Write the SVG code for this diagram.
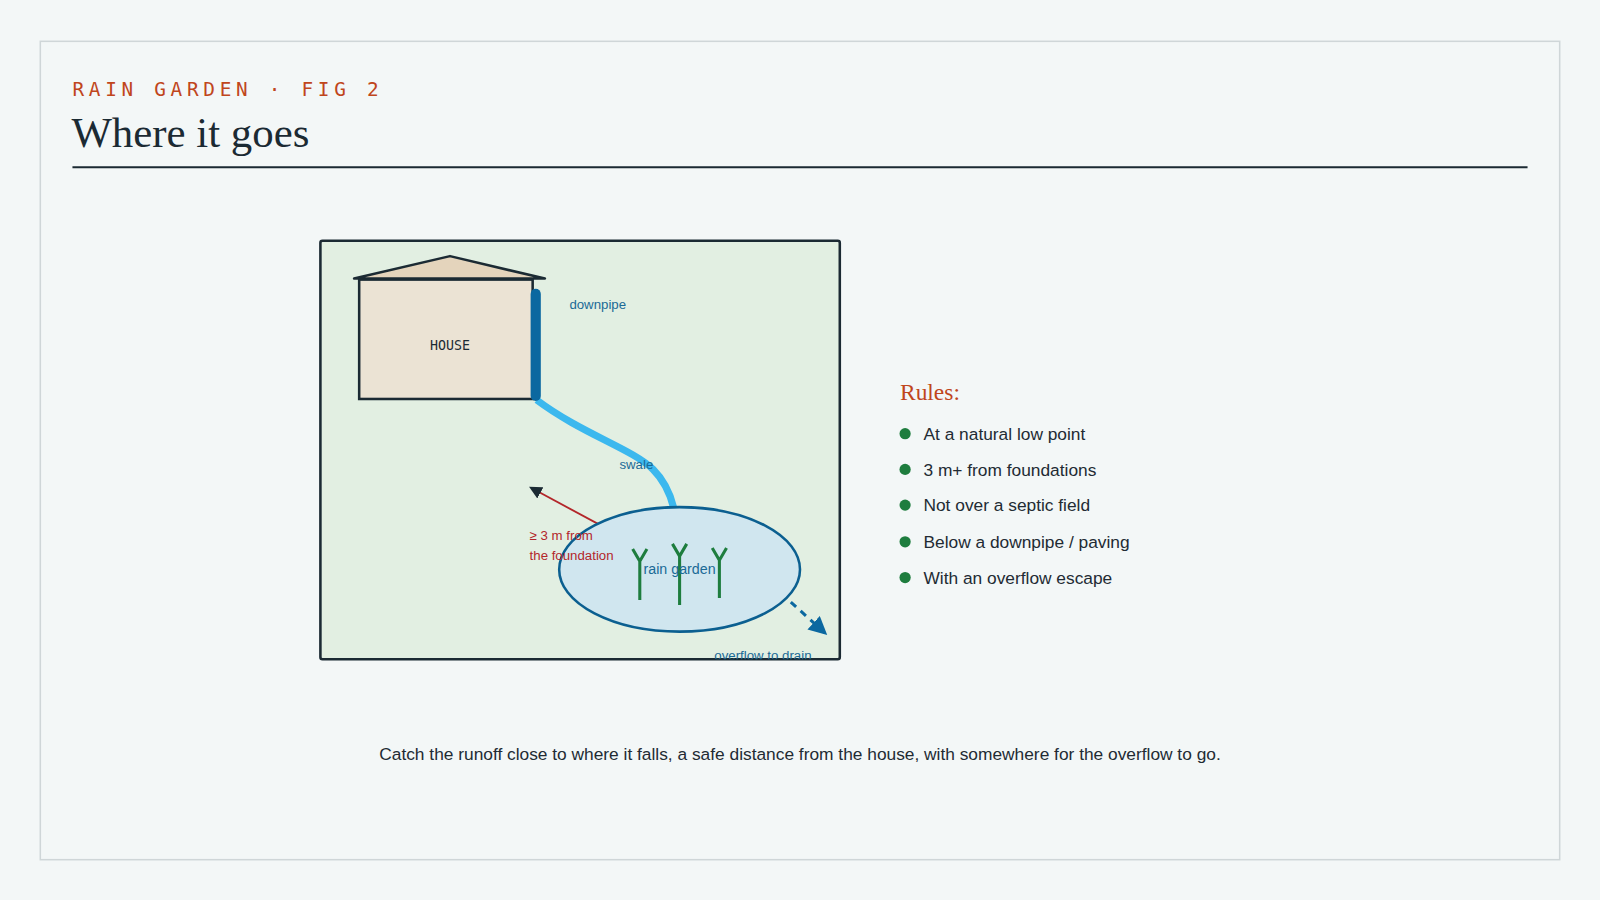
<svg xmlns="http://www.w3.org/2000/svg" width="1600" height="900" viewBox="0 0 1600 900">
<defs>
<style>
.sans{font-family:"Liberation Sans",Arial,sans-serif}
.blue{fill:#1a6a96;font-size:13px}
.rule{fill:#222b33;font-size:17px}
.dot{fill:#1e7d3e}
.plant{stroke:#1e7d3e;stroke-width:3;fill:none}
</style>
<marker id="tri" viewBox="0 0 10 10" refX="5" refY="5" markerWidth="7" markerHeight="7" orient="auto-start-reverse"><path d="M0,0L10,5L0,10z" fill="#1b2a33"/></marker>
<marker id="ov" viewBox="0 0 10 10" refX="8" refY="5" markerWidth="6" markerHeight="6" orient="auto"><path d="M0,0L10,5L0,10z" fill="#0b68a0"/></marker>
<clipPath id="mapclip"><rect x="314" y="236" width="509" height="410"/></clipPath>
</defs>
<rect width="1600" height="900" fill="#f3f7f7"/>
<g transform="scale(1.020408)">
<rect x="39.5" y="40.5" width="1489" height="802" fill="#f3f7f7" stroke="#cfd6d8" stroke-width="1.5"/>
<text x="71" y="94" font-family="'DejaVu Sans Mono',monospace" font-size="19" letter-spacing="4.6" fill="#c0461c">RAIN GARDEN · FIG 2</text>
<text x="70" y="144" font-family="'Liberation Serif',serif" font-size="42" fill="#1b2a33">Where it goes</text>
<line x1="71" y1="164" x2="1497" y2="164" stroke="#1b2a33" stroke-width="2"/>
<g id="map">
<rect x="314" y="236" width="509" height="410" rx="2" fill="#e2efe2" stroke="#1b2a33" stroke-width="2.5"/>
</g>
<g id="house">
<polygon points="347,273 441,251 534,273" fill="#e4d4bc" stroke="#1b2a33" stroke-width="2.5" stroke-linejoin="round"/>
<rect x="352" y="274" width="170" height="117" fill="#ebe3d4" stroke="#1b2a33" stroke-width="2.5"/>
<text x="441" y="343" text-anchor="middle" font-family="'DejaVu Sans Mono',monospace" font-size="13" fill="#1b2a33">HOUSE</text>
</g>
<g id="connectors">
<path d="M526,392 C570,425 620,440 640,460 C652,472 657,485 660,497" fill="none" stroke="#3cb8ee" stroke-width="7"/>
<line x1="524" y1="480" x2="602" y2="522" stroke="#b3262a" stroke-width="1.8" marker-start="url(#tri)" marker-end="url(#tri)"/>
<line x1="775" y1="590" x2="808" y2="620" stroke="#0b68a0" stroke-width="3" stroke-dasharray="7,6" marker-end="url(#ov)"/>
</g>
<g id="downpipe">
<line x1="525" y1="288" x2="525" y2="388" stroke="#0b68a0" stroke-width="10" stroke-linecap="round"/>
<text x="558" y="303" class="sans blue">downpipe</text>
</g>
<g id="garden">
<ellipse cx="666" cy="558" rx="118" ry="61" fill="#d0e6ef" stroke="#0b5f90" stroke-width="2.5"/>
<path class="plant" d="M627,588V548M620,538L627,550L634,538"/>
<path class="plant" d="M666,593V545M659,533L666,545L673,533"/>
<path class="plant" d="M705,586V547M698,537L705,549L712,537"/>
<text x="666" y="563" text-anchor="middle" class="sans blue" style="font-size:14px">rain garden</text>
</g>
<text x="607" y="460" class="sans blue">swale</text>
<text class="sans" font-size="13" fill="#b3262a"><tspan x="519" y="529">≥ 3 m from</tspan><tspan x="519" y="549">the foundation</tspan></text>
<g clip-path="url(#mapclip)"><text x="700" y="647" class="sans blue">overflow to drain</text></g>
<g id="rules">
<text x="882" y="392" font-family="'Liberation Serif',serif" font-size="23" fill="#c0461c">Rules:</text>
<circle cx="887" cy="425" r="5.5" class="dot"/><text x="905" y="431" class="sans rule">At a natural low point</text>
<circle cx="887" cy="460" r="5.5" class="dot"/><text x="905" y="466" class="sans rule">3 m+ from foundations</text>
<circle cx="887" cy="495" r="5.5" class="dot"/><text x="905" y="501" class="sans rule">Not over a septic field</text>
<circle cx="887" cy="531" r="5.5" class="dot"/><text x="905" y="537" class="sans rule">Below a downpipe / paving</text>
<circle cx="887" cy="566" r="5.5" class="dot"/><text x="905" y="572" class="sans rule">With an overflow escape</text>
</g>
<text x="784" y="745" text-anchor="middle" class="sans rule">Catch the runoff close to where it falls, a safe distance from the house, with somewhere for the overflow to go.</text>
</g>
</svg>
